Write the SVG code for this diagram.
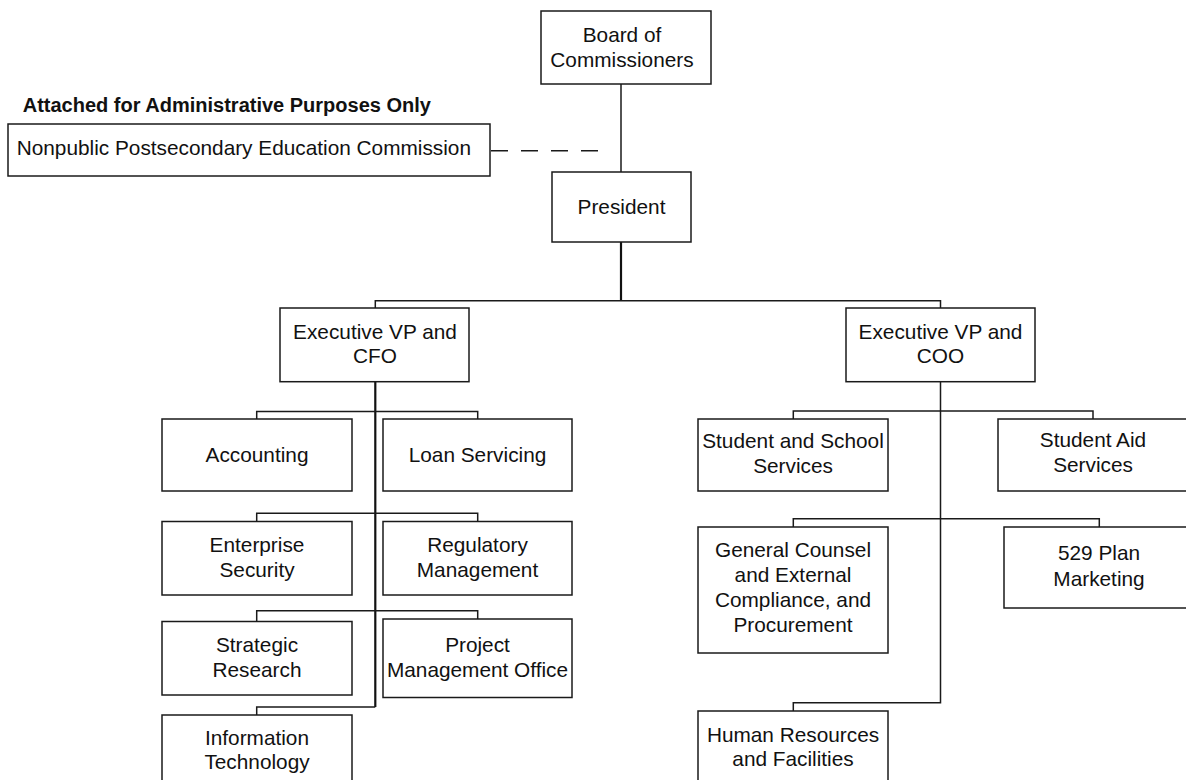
<svg xmlns="http://www.w3.org/2000/svg" width="1186" height="780" viewBox="0 0 1186 780">
<style>
.box{fill:#fff;stroke:#1a1a1a;stroke-width:1.5}
.t{font-family:"Liberation Sans",Arial,sans-serif;font-size:20.8px;fill:#111;text-anchor:middle}
.tl{font-family:"Liberation Sans",Arial,sans-serif;font-size:20.8px;fill:#111}
.b{font-family:"Liberation Sans",Arial,sans-serif;font-size:20px;font-weight:bold;fill:#111}
.c{fill:none;stroke:#1a1a1a;stroke-width:1.5}
.thick{fill:none;stroke:#111;stroke-width:2.2}
.dash{fill:none;stroke:#1a1a1a;stroke-width:1.5;stroke-dasharray:17 13}
</style>
<rect width="1186" height="780" fill="#fff"/>
<g id="connectors">
<line class="c" x1="621" y1="84" x2="621" y2="172"/>
<line class="dash" x1="491" y1="150.7" x2="598" y2="150.7"/>
<path class="thick" d="M621 242V300.7"/>
<path class="c" d="M375.3 308V300.7H940.5V308"/>
<path class="thick" d="M375.3 381.7V707"/>
<path class="c" d="M256.7 419V411.5H477.7V419"/>
<path class="c" d="M256.7 521.5V513.3H477.7V521.5"/>
<path class="c" d="M256.7 621.5V610.7H477.7V619"/>
<path class="c" d="M375.3 707H256.7V715"/>
<path class="c" d="M940.5 381.7V702.7H793.3V711"/>
<path class="c" d="M793.3 419V411H1093V419"/>
<path class="c" d="M793.3 527V518.7H1099.3V527"/>
</g>
<g id="board"><rect class="box" x="541" y="11" width="170" height="73"/><text class="t" x="622" y="41.7">Board of</text><text class="t" x="622" y="66.7">Commissioners</text></g>
<g id="attached-label"><text class="b" x="22.7" y="112">Attached for Administrative Purposes Only</text></g>
<g id="nonpublic"><rect class="box" x="8" y="124" width="482" height="52"/><text class="tl" x="16.7" y="155">Nonpublic Postsecondary Education Commission</text></g>
<g id="president"><rect class="box" x="552" y="172" width="139" height="70"/><text class="t" x="621.5" y="214">President</text></g>
<g id="cfo"><rect class="box" x="280" y="308" width="189" height="73.7"/><text class="t" x="375" y="339">Executive VP and</text><text class="t" x="375" y="363">CFO</text></g>
<g id="coo"><rect class="box" x="846" y="308" width="189" height="73.7"/><text class="t" x="940.5" y="339">Executive VP and</text><text class="t" x="940.5" y="363">COO</text></g>
<g id="accounting"><rect class="box" x="162" y="419" width="190" height="72"/><text class="t" x="257" y="462">Accounting</text></g>
<g id="loan-servicing"><rect class="box" x="383" y="419" width="189" height="72"/><text class="t" x="477.5" y="462">Loan Servicing</text></g>
<g id="enterprise-security"><rect class="box" x="162" y="521.5" width="190" height="73.5"/><text class="t" x="257" y="551.7">Enterprise</text><text class="t" x="257" y="577">Security</text></g>
<g id="regulatory-management"><rect class="box" x="383" y="521.5" width="189" height="73.5"/><text class="t" x="477.5" y="551.7">Regulatory</text><text class="t" x="477.5" y="577">Management</text></g>
<g id="strategic-research"><rect class="box" x="162" y="621.5" width="190" height="73.5"/><text class="t" x="257" y="651.7">Strategic</text><text class="t" x="257" y="676.7">Research</text></g>
<g id="project-management-office"><rect class="box" x="383" y="619" width="189" height="78.5"/><text class="t" x="477.5" y="651.7">Project</text><text class="t" x="477.5" y="676.7">Management Office</text></g>
<g id="information-technology"><rect class="box" x="162" y="715" width="190" height="90"/><text class="t" x="257" y="745">Information</text><text class="t" x="257" y="769">Technology</text></g>
<g id="student-school-services"><rect class="box" x="698" y="419" width="190" height="72"/><text class="t" x="793" y="448">Student and School</text><text class="t" x="793" y="472.7">Services</text></g>
<g id="student-aid-services"><rect class="box" x="998" y="419" width="190" height="72"/><text class="t" x="1093" y="446.7">Student Aid</text><text class="t" x="1093" y="471.7">Services</text></g>
<g id="general-counsel"><rect class="box" x="698" y="527" width="190" height="126"/><text class="t" x="793" y="557">General Counsel</text><text class="t" x="793" y="582">and External</text><text class="t" x="793" y="607">Compliance, and</text><text class="t" x="793" y="632">Procurement</text></g>
<g id="plan-529-marketing"><rect class="box" x="1004" y="527" width="190" height="81"/><text class="t" x="1099" y="560">529 Plan</text><text class="t" x="1099" y="586">Marketing</text></g>
<g id="human-resources"><rect class="box" x="698" y="711" width="190" height="90"/><text class="t" x="793" y="742">Human Resources</text><text class="t" x="793" y="766">and Facilities</text></g>
</svg>
